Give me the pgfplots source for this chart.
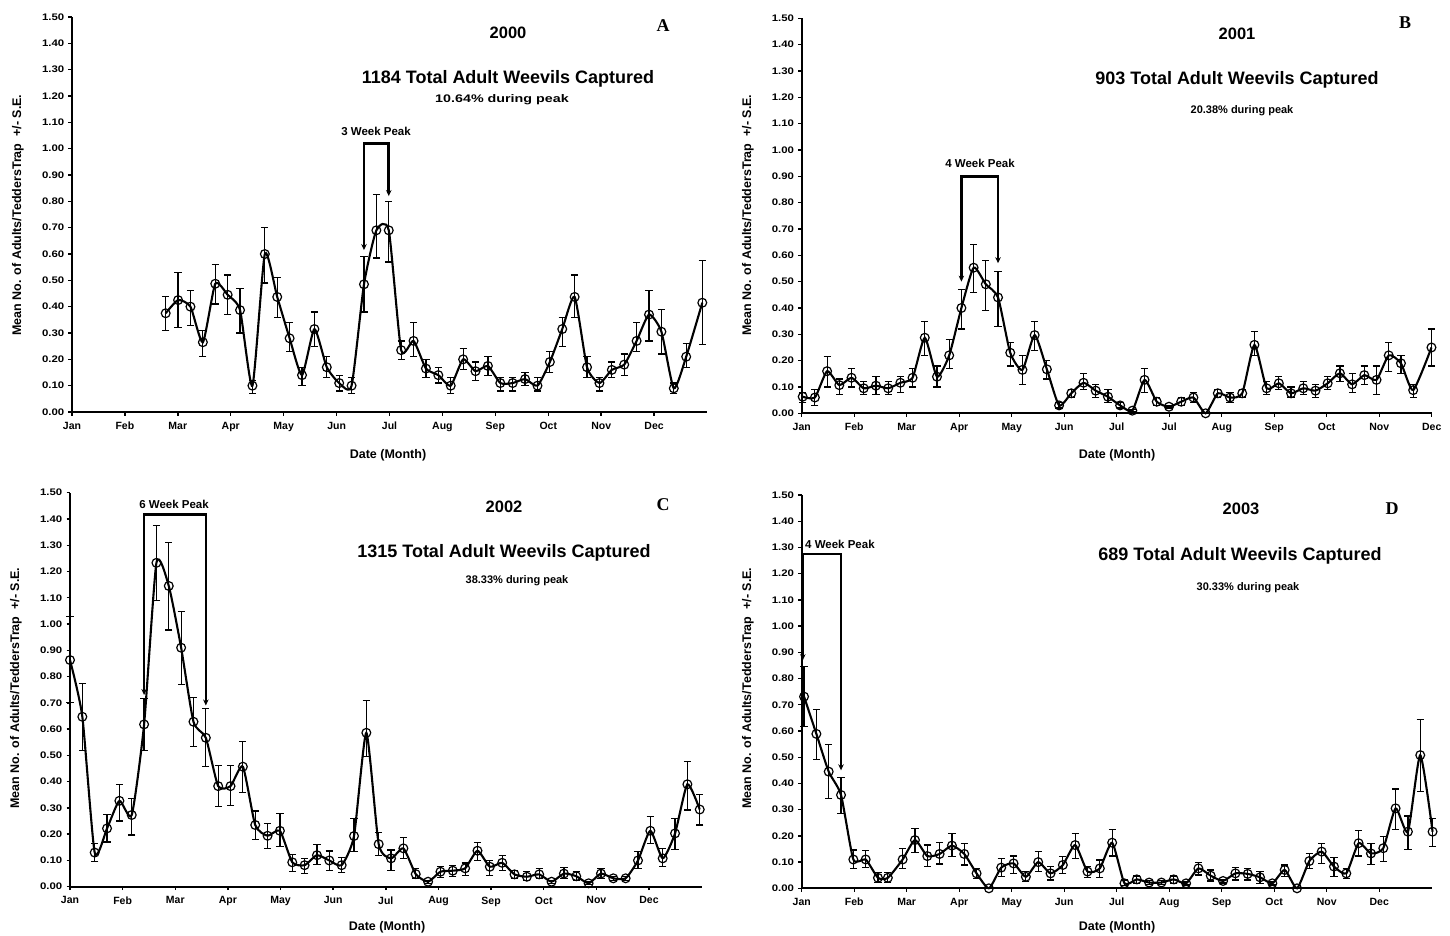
\documentclass[border=0pt]{standalone}
\usepackage{graphicx}
\usepackage{pgfplots}
\pgfplotsset{compat=1.18}
\usepackage{pgfplotstable}
\usepackage{fontspec}
\setmainfont{Liberation Sans}
\newfontfamily\serifb{Liberation Serif}
\usetikzlibrary{arrows.meta}

\newcommand\fs[1]{\fontsize{#1}{#1}\selectfont\bfseries}

% weekly means, upper and lower S.E. limits (x = week index)
\pgfplotstableread{
x y hi lo
0 0.375 0.44 0.31
1 0.425 0.53 0.32
2 0.40 0.46 0.33
3 0.265 0.31 0.21
4 0.487 0.56 0.41
5 0.445 0.52 0.37
6 0.387 0.47 0.30
7 0.10 0.12 0.07
8 0.60 0.70 0.49
9 0.437 0.51 0.36
10 0.28 0.34 0.23
11 0.14 0.17 0.10
12 0.315 0.38 0.25
13 0.17 0.21 0.13
14 0.11 0.14 0.08
15 0.10 0.13 0.07
16 0.485 0.59 0.38
17 0.69 0.825 0.585
18 0.69 0.80 0.57
19 0.235 0.27 0.20
20 0.27 0.34 0.21
21 0.165 0.20 0.13
22 0.14 0.17 0.11
23 0.10 0.13 0.07
24 0.20 0.24 0.16
25 0.155 0.19 0.12
26 0.175 0.21 0.14
27 0.11 0.13 0.08
28 0.11 0.13 0.08
29 0.125 0.15 0.10
30 0.10 0.13 0.08
31 0.19 0.23 0.15
32 0.315 0.36 0.25
33 0.437 0.52 0.36
34 0.17 0.21 0.13
35 0.11 0.13 0.08
36 0.16 0.19 0.13
37 0.18 0.22 0.14
38 0.27 0.34 0.23
39 0.37 0.46 0.27
40 0.305 0.39 0.22
41 0.09 0.11 0.07
42 0.21 0.26 0.17
43.3 0.415 0.575 0.255
}\tabA

\pgfplotstableread{
x y hi lo
0 0.063 0.08 0.04
1 0.06 0.09 0.03
2 0.16 0.215 0.10
3 0.107 0.13 0.07
4 0.135 0.17 0.10
5 0.095 0.12 0.07
6 0.105 0.14 0.07
7 0.095 0.12 0.07
8 0.116 0.14 0.08
9 0.135 0.17 0.10
10 0.287 0.35 0.22
11 0.139 0.18 0.10
12 0.22 0.28 0.17
13 0.40 0.47 0.32
14 0.553 0.64 0.46
15 0.49 0.58 0.39
16 0.44 0.54 0.33
17 0.23 0.27 0.18
18 0.165 0.22 0.11
19 0.297 0.35 0.24
20 0.167 0.20 0.13
21 0.03 0.04 0.02
22 0.076 0.09 0.06
23 0.116 0.15 0.09
24 0.086 0.11 0.06
25 0.063 0.09 0.04
26 0.03 0.04 0.02
27 0.01 0.015 0.005
28 0.127 0.17 0.08
29 0.044 0.06 0.03
30 0.025 0.03 0.02
31 0.044 0.06 0.03
32 0.06 0.08 0.04
33 0.00 0.00 0.00
34 0.076 0.09 0.06
35 0.06 0.08 0.04
36 0.076 0.09 0.06
37 0.26 0.31 0.22
38 0.095 0.12 0.07
39 0.114 0.14 0.09
40 0.076 0.10 0.06
41 0.095 0.12 0.07
42 0.086 0.11 0.06
43 0.114 0.14 0.09
44 0.152 0.18 0.12
45 0.11 0.15 0.08
46 0.145 0.18 0.11
47 0.127 0.18 0.07
48 0.22 0.27 0.16
49 0.19 0.22 0.15
50 0.088 0.11 0.06
51.5 0.25 0.32 0.18
}\tabB

\pgfplotstableread{
x y hi lo
0 0.863 1.03 0.70
1 0.647 0.774 0.52
2 0.13 0.165 0.095
3 0.222 0.275 0.17
4 0.327 0.39 0.25
5 0.273 0.336 0.197
6 0.618 0.717 0.518
7 1.233 1.374 1.09
8 1.145 1.31 0.977
9 0.91 1.047 0.77
10 0.628 0.72 0.533
11 0.567 0.68 0.457
12 0.383 0.463 0.305
13 0.383 0.46 0.31
14 0.457 0.552 0.358
15 0.235 0.288 0.18
16 0.194 0.24 0.146
17 0.213 0.28 0.152
18 0.093 0.124 0.057
19 0.082 0.108 0.05
20 0.12 0.16 0.086
21 0.10 0.136 0.063
22 0.082 0.11 0.053
23 0.193 0.26 0.133
24 0.586 0.71 0.495
25 0.162 0.207 0.12
26 0.108 0.14 0.063
27 0.146 0.188 0.108
28 0.048 0.07 0.03
29 0.019 0.025 0.013
30 0.057 0.076 0.036
31 0.061 0.082 0.038
32 0.07 0.09 0.044
33 0.137 0.169 0.10
34 0.076 0.10 0.044
35 0.091 0.118 0.063
36 0.047 0.063 0.03
37 0.038 0.057 0.025
38 0.047 0.07 0.03
39 0.019 0.025 0.013
40 0.05 0.074 0.03
41 0.04 0.057 0.025
42 0.013 0.02 0.008
43 0.05 0.07 0.03
44 0.032 0.04 0.025
45 0.032 0.04 0.025
46 0.10 0.133 0.07
47 0.213 0.266 0.165
48 0.108 0.146 0.076
49 0.203 0.26 0.143
50 0.39 0.476 0.292
51 0.294 0.352 0.235
}\tabC

\pgfplotstableread{
x y hi lo
0 0.731 0.845 0.616
1 0.589 0.683 0.492
2 0.445 0.547 0.343
3 0.356 0.422 0.286
4 0.11 0.146 0.076
5 0.11 0.144 0.079
6 0.04 0.06 0.022
6.8 0.04 0.06 0.022
8 0.11 0.153 0.076
9 0.184 0.229 0.136
10 0.123 0.165 0.083
11 0.131 0.174 0.093
12 0.163 0.21 0.12
13 0.131 0.172 0.089
14 0.057 0.076 0.038
15 0.00 0.00 0.00
16 0.079 0.114 0.044
17 0.095 0.123 0.057
18 0.044 0.064 0.025
19 0.10 0.14 0.064
20 0.057 0.083 0.032
21 0.089 0.12 0.057
22 0.165 0.21 0.114
23 0.064 0.083 0.042
24 0.076 0.108 0.042
25 0.174 0.225 0.123
26 0.019 0.032 0.01
27 0.034 0.047 0.019
28 0.022 0.03 0.015
29 0.022 0.03 0.015
30 0.034 0.047 0.019
31 0.019 0.025 0.013
32 0.076 0.098 0.051
33 0.048 0.07 0.028
34 0.028 0.035 0.02
35 0.057 0.079 0.032
36 0.055 0.076 0.032
37 0.042 0.064 0.019
38 0.019 0.025 0.013
39 0.07 0.089 0.044
40 0.00 0.00 0.00
41 0.104 0.133 0.076
42 0.14 0.172 0.095
43 0.083 0.118 0.044
44 0.057 0.076 0.038
45 0.172 0.222 0.123
46 0.133 0.172 0.092
47 0.153 0.197 0.102
48 0.305 0.379 0.225
49 0.216 0.276 0.149
50 0.508 0.644 0.369
51 0.216 0.267 0.161
}\tabD

\pgfplotsset{
  panel/.style={
    scale only axis, anchor=south west, clip=false,
    axis lines=left, axis line style={line width=2pt, -},
    ymin=0, ymax=1.5,
    ytick={0,0.1,0.2,0.3,0.4,0.5,0.6,0.7,0.8,0.9,1.0,1.1,1.2,1.3,1.4,1.5},
    yticklabels={0.00,0.10,0.20,0.30,0.40,0.50,0.60,0.70,0.80,0.90,1.00,1.10,1.20,1.30,1.40,1.50},
    tick align=outside, major tick length=3.5pt,
    tick style={line width=1.4pt, black},
    yticklabel style={font=\fs{9.5}, xscale=1.2},
    xticklabel style={font=\fs{10.5}, yshift=-3pt},
  },
  dat/.style={
    black, line width=2.1pt, smooth, tension=0.35,
    mark=o, mark size=4.4pt, mark options={line width=1.2pt, solid},
    error bars/.cd, y dir=both, y explicit,
    error bar style={line width=1.2pt},
    error mark options={rotate=90, mark size=3.6pt, line width=1.2pt},
  },
}
\tikzset{bracket/.style={line width=2.6pt, {Stealth[length=6pt,width=5.5pt]}-{Stealth[length=6pt,width=5.5pt]}}}
\newcommand\ylab{Mean No. of Adults/TeddersTrap\ \ +/- S.E.}

\begin{document}
\begin{tikzpicture}
\useasboundingbox (0pt,0pt) rectangle (1450pt,-935pt);

% ---- A: 2000
\begin{axis}[panel, at={(72pt,-412pt)}, width=635pt, height=395pt,
  xmin=-7.56, xmax=43.68,
  xtick={-7.56,-3.29,0.98,5.25,9.52,13.79,18.06,22.33,26.60,30.87,35.14,39.41},
  xticklabels={Jan,Feb,Mar,Apr,May,Jun,Jul,Aug,Sep,Oct,Nov,Dec}]
\addplot[dat] table[x=x, y=y, y error plus expr=\thisrow{hi}-\thisrow{y}, y error minus expr=\thisrow{y}-\thisrow{lo}] {\tabA};
\draw[bracket] (axis cs:16,0.615) -- (axis cs:16,1.02) -- (axis cs:18,1.02) -- (axis cs:18,0.82);
\end{axis}

% ---- B: 2001
\begin{axis}[panel, at={(801.7pt,-413.3pt)}, width=630pt, height=395pt,
  xmin=-0.08, xmax=51.52,
  xtick={-0.08,4.22,8.52,12.82,17.12,21.42,25.72,30.02,34.32,38.62,42.92,47.22,51.52},
  xticklabels={Jan,Feb,Mar,Apr,May,Jun,Jul,Jul,Aug,Sep,Oct,Nov,Dec}]
\addplot[dat] table[x=x, y=y, y error plus expr=\thisrow{hi}-\thisrow{y}, y error minus expr=\thisrow{y}-\thisrow{lo}] {\tabB};
\draw[bracket] (axis cs:13,0.50) -- (axis cs:13,0.90) -- (axis cs:16,0.90) -- (axis cs:16,0.57);
\end{axis}

% ---- C: 2002
\begin{axis}[panel, at={(70pt,-886.7pt)}, width=631.7pt, height=394pt,
  xmin=0, xmax=51.16,
  xtick={0,4.263,8.526,12.789,17.052,21.315,25.578,29.841,34.104,38.367,42.63,46.893},
  xticklabels={Jan,Feb,Mar,Apr,May,Jun,Jul,Aug,Sep,Oct,Nov,Dec}]
\addplot[dat] table[x=x, y=y, y error plus expr=\thisrow{hi}-\thisrow{y}, y error minus expr=\thisrow{y}-\thisrow{lo}] {\tabC};
\draw[bracket] (axis cs:6,0.73) -- (axis cs:6,1.418) -- (axis cs:11,1.418) -- (axis cs:11,0.69);
\end{axis}

% ---- D: 2003
\begin{axis}[panel, at={(801.7pt,-888.3pt)}, width=630pt, height=393.3pt,
  xmin=-0.19, xmax=50.93,
  xtick={-0.19,4.07,8.33,12.59,16.85,21.11,25.37,29.63,33.89,38.15,42.41,46.67},
  xticklabels={Jan,Feb,Mar,Apr,May,Jun,Jul,Aug,Sep,Oct,Nov,Dec}]
\addplot[dat] table[x=x, y=y, y error plus expr=\thisrow{hi}-\thisrow{y}, y error minus expr=\thisrow{y}-\thisrow{lo}] {\tabD};
\draw[bracket] (axis cs:-0.1,0.87) -- (axis cs:-0.1,1.275) -- (axis cs:3,1.275) -- (axis cs:3,0.45);
\end{axis}

% ---- texts
\node[font=\fs{16.5}] at (508pt,-33pt) {2000};
\node[font=\fs{18}] at (508pt,-79pt) {1184 Total Adult Weevils Captured};
\node[font=\fs{11}] at (502pt,-100pt) {\scalebox{1.3}[1]{10.64\% during peak}};
\node[font=\serifb\fontsize{18}{18}\selectfont\bfseries] at (663pt,-26pt) {A};
\node[font=\fs{11.5}] at (376pt,-131pt) {3 Week Peak};
\node[rotate=90, font=\fs{12.5}] at (18pt,-215pt) {\ylab};
\node[font=\fs{12.5}] at (388pt,-455pt) {Date (Month)};

\node[font=\fs{16.5}] at (1237pt,-34pt) {2001};
\node[font=\fs{18}] at (1237pt,-80pt) {903 Total Adult Weevils Captured};
\node[font=\fs{11}] at (1242pt,-111pt) {20.38\% during peak};
\node[font=\serifb\fontsize{18}{18}\selectfont\bfseries] at (1405pt,-23pt) {B};
\node[font=\fs{11.5}] at (980pt,-163pt) {4 Week Peak};
\node[rotate=90, font=\fs{12.5}] at (748pt,-215pt) {\ylab};
\node[font=\fs{12.5}] at (1117pt,-455pt) {Date (Month)};

\node[font=\fs{16.5}] at (504pt,-507pt) {2002};
\node[font=\fs{18}] at (504pt,-553pt) {1315 Total Adult Weevils Captured};
\node[font=\fs{11}] at (517pt,-581pt) {38.33\% during peak};
\node[font=\serifb\fontsize{18}{18}\selectfont\bfseries] at (663pt,-505pt) {C};
\node[font=\fs{11.5}] at (174pt,-504pt) {6 Week Peak};
\node[rotate=90, font=\fs{12.5}] at (16pt,-688pt) {\ylab};
\node[font=\fs{12.5}] at (387pt,-927pt) {Date (Month)};

\node[font=\fs{16.5}] at (1241pt,-509pt) {2003};
\node[font=\fs{18}] at (1240pt,-556pt) {689 Total Adult Weevils Captured};
\node[font=\fs{11}] at (1248pt,-588pt) {30.33\% during peak};
\node[font=\serifb\fontsize{18}{18}\selectfont\bfseries] at (1392pt,-509pt) {D};
\node[font=\fs{11.5}, anchor=west, inner sep=0pt] at (805pt,-544pt) {4 Week Peak};
\node[rotate=90, font=\fs{12.5}] at (748pt,-688pt) {\ylab};
\node[font=\fs{12.5}] at (1117pt,-927pt) {Date (Month)};
\end{tikzpicture}
\end{document}
